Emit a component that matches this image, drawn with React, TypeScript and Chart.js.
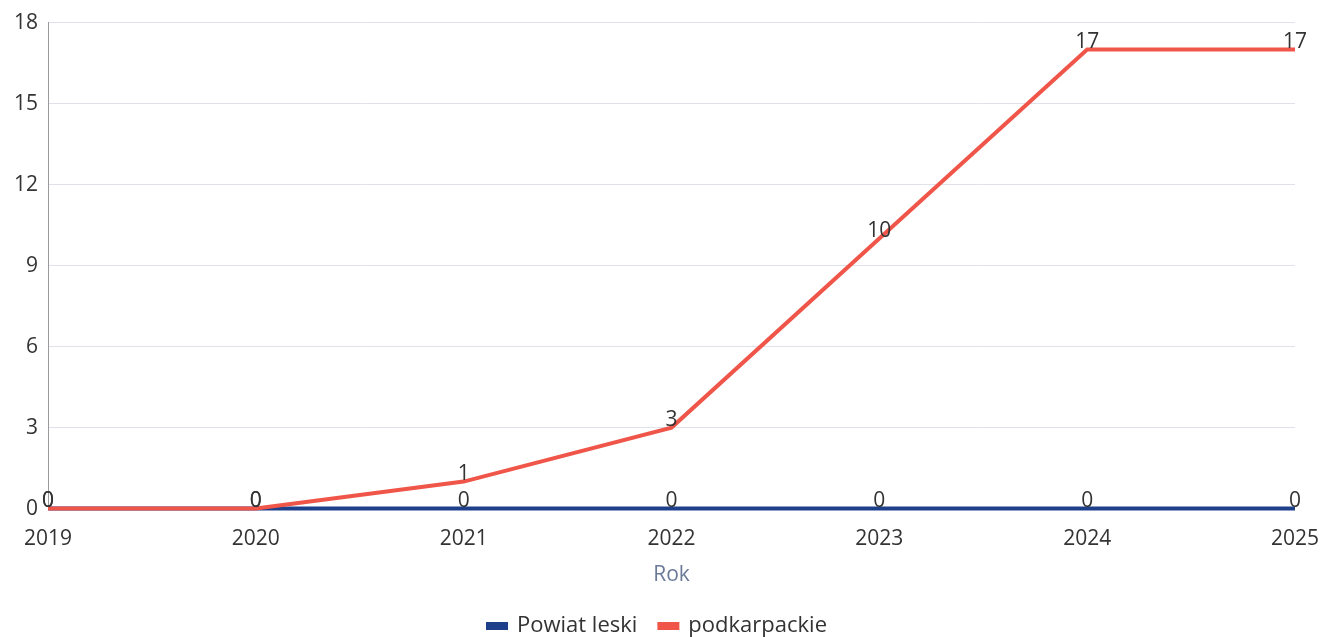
import React, { useEffect, useRef } from "react";
import { Chart, registerables } from "chart.js";

Chart.register(...registerables);

const years = ["2019", "2020", "2021", "2022", "2023", "2024", "2025"];
const powiatLeski = [0, 0, 0, 0, 0, 0, 0];
const podkarpackie = [0, 0, 1, 3, 10, 17, 17];
const yTicks = [0, 3, 6, 9, 12, 15, 18];

const FONT = "'Open Sans', 'Noto Sans', sans-serif";

const labelPlugin = {
  id: "pointLabels",
  afterDatasetsDraw(chart: any) {
    const ctx = chart.ctx;
    ctx.save();
    ctx.font = `21px ${FONT}`;
    ctx.fillStyle = "#333333";
    ctx.textAlign = "center";
    ctx.textBaseline = "bottom";
    chart.data.datasets.forEach((ds: any, i: number) => {
      const meta = chart.getDatasetMeta(i);
      meta.data.forEach((pt: any, j: number) => {
        ctx.fillText(String(ds.data[j]), pt.x, pt.y + 3);
      });
    });
    ctx.restore();
  },
};

export default function App() {
  const ref = useRef<HTMLCanvasElement | null>(null);
  useEffect(() => {
    document.body.style.margin = "0";
    const chart = new Chart(ref.current!, {
      type: "line",
      data: {
        labels: years,
        datasets: [
          {
            label: "Powiat leski",
            data: powiatLeski,
            borderColor: "#1e3f8a",
            backgroundColor: "#1e3f8a",
            borderWidth: 4,
            pointRadius: 0,
            tension: 0,
            order: 1,
            clip: false,
          },
          {
            label: "podkarpackie",
            data: podkarpackie,
            borderColor: "#ef5548",
            backgroundColor: "#ef5548",
            borderWidth: 4,
            pointRadius: 0,
            tension: 0,
            order: 0,
            clip: false,
          },
        ],
      },
      options: {
        animation: false,
        responsive: false,
        layout: { padding: { top: 12, right: 26, left: 4, bottom: -10 } },
        scales: {
          x: {
            offset: false,
            grid: { display: false, drawTicks: false },
            border: { display: false },
            ticks: { color: "#333", font: { family: FONT, size: 21 }, padding: 18, maxRotation: 0 },
            title: { display: true, text: "Rok", color: "#6b7a99", font: { family: FONT, size: 21 }, padding: { top: -7, bottom: 5 } },
          },
          y: {
            min: 0,
            max: 18,
            afterBuildTicks(scale: any) {
              scale.ticks = yTicks.map((v) => ({ value: v }));
            },
            grid: { color: "#dfe2ea", drawTicks: false },
            border: { display: true, color: "#9a9a9a", width: 1 },
            ticks: { color: "#333", font: { family: FONT, size: 21 }, padding: 10 },
          },
        },
        plugins: {
          legend: {
            position: "bottom",
            labels: {
              color: "#333",
              font: { family: FONT, size: 22 },
              boxWidth: 18,
              boxHeight: 4,
              padding: 22,
              sort: (a: any, b: any) => a.datasetIndex - b.datasetIndex,
            },
          },
          tooltip: { enabled: false },
        },
      },
      plugins: [labelPlugin],
    });
    return () => chart.destroy();
  }, []);
  return <canvas ref={ref} width={1337} height={637} style={{ display: "block" }} />;
}
